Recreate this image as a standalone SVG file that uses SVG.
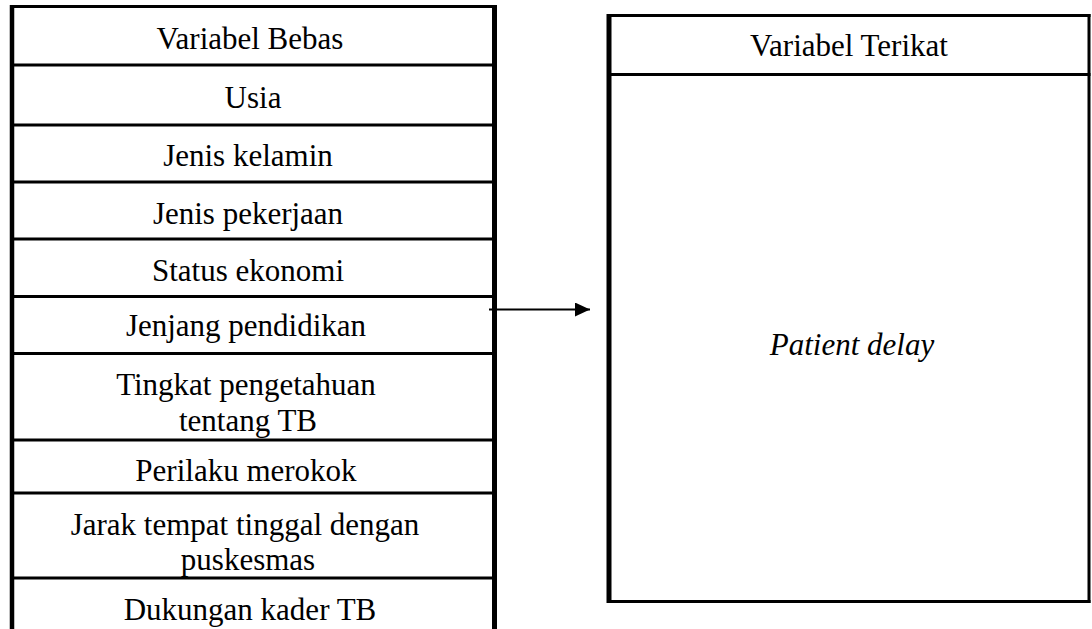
<svg xmlns="http://www.w3.org/2000/svg" width="1092" height="629" viewBox="0 0 1092 629">
<style>
.t{font-family:"Liberation Serif","Times New Roman",serif;font-size:31px;fill:#000;text-anchor:middle}
.i{font-style:italic}
.b{stroke:#000;fill:none}
</style>
<defs>
<marker id="ah" markerWidth="16" markerHeight="14" refX="15" refY="7" orient="auto" markerUnits="userSpaceOnUse">
<path d="M0,0 L15,7 L0,14 Z" fill="#000"/>
</marker>
</defs>
<rect width="1092" height="629" fill="#fff"/>
<g id="left-box">
<line class="b" x1="12" y1="5" x2="12" y2="629" stroke-width="4.5"/>
<line class="b" x1="494.5" y1="5" x2="494.5" y2="629" stroke-width="5"/>
<line class="b" x1="10" y1="6.5" x2="497" y2="6.5" stroke-width="3"/>
<line class="b" x1="12" y1="65" x2="497" y2="65" stroke-width="3"/>
<line class="b" x1="12" y1="125" x2="497" y2="125" stroke-width="3"/>
<line class="b" x1="12" y1="182" x2="497" y2="182" stroke-width="3"/>
<line class="b" x1="12" y1="239" x2="497" y2="239" stroke-width="3"/>
<line class="b" x1="12" y1="296.5" x2="497" y2="296.5" stroke-width="3"/>
<line class="b" x1="12" y1="353.5" x2="497" y2="353.5" stroke-width="3"/>
<line class="b" x1="12" y1="440" x2="497" y2="440" stroke-width="3"/>
<line class="b" x1="12" y1="493" x2="497" y2="493" stroke-width="3"/>
<line class="b" x1="12" y1="578" x2="497" y2="578" stroke-width="3"/>
</g>
<g id="n-variabel-bebas"><text class="t" x="250" y="49">Variabel Bebas</text></g>
<g id="n-usia"><text class="t" x="253" y="108">Usia</text></g>
<g id="n-jenis-kelamin"><text class="t" x="248" y="166">Jenis kelamin</text></g>
<g id="n-jenis-pekerjaan"><text class="t" x="248" y="223.5">Jenis pekerjaan</text></g>
<g id="n-status-ekonomi"><text class="t" x="248" y="280.5">Status ekonomi</text></g>
<g id="n-jenjang-pendidikan"><text class="t" x="246" y="336">Jenjang pendidikan</text></g>
<g id="n-tingkat-pengetahuan"><text class="t" x="246" y="395">Tingkat pengetahuan</text><text class="t" x="248" y="431">tentang TB</text></g>
<g id="n-perilaku-merokok"><text class="t" x="246" y="481">Perilaku merokok</text></g>
<g id="n-jarak"><text class="t" x="245" y="535">Jarak tempat tinggal dengan</text><text class="t" x="248" y="570">puskesmas</text></g>
<g id="n-dukungan"><text class="t" x="250" y="620">Dukungan kader TB</text></g>
<g id="right-box">
<line class="b" x1="609" y1="14" x2="609" y2="603" stroke-width="5"/>
<line class="b" x1="1089" y1="14" x2="1089" y2="603" stroke-width="3"/>
<line class="b" x1="607" y1="15.5" x2="1090.5" y2="15.5" stroke-width="3"/>
<line class="b" x1="609" y1="74.5" x2="1090.5" y2="74.5" stroke-width="3"/>
<line class="b" x1="607" y1="601.5" x2="1090.5" y2="601.5" stroke-width="3"/>
</g>
<g id="n-variabel-terikat"><text class="t" x="849" y="56">Variabel Terikat</text></g>
<g id="n-patient-delay"><text class="t i" x="852" y="355">Patient delay</text></g>
<g id="connectors">
<line x1="489" y1="309.5" x2="590" y2="309.5" stroke="#000" stroke-width="1.8" marker-end="url(#ah)"/>
</g>
</svg>
